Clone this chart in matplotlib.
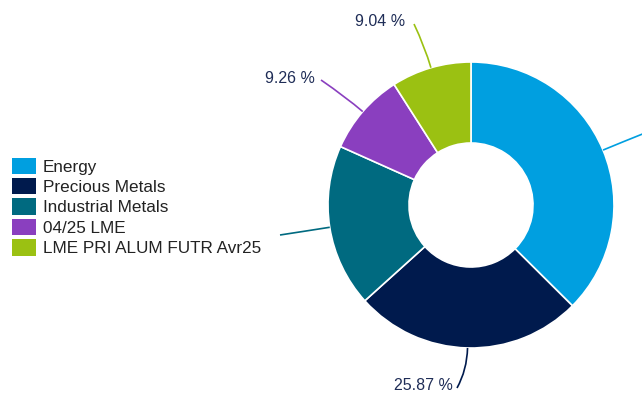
import numpy as np
import matplotlib
matplotlib.use("Agg")
import matplotlib.pyplot as plt
from matplotlib.path import Path
from matplotlib.patches import PathPatch, Patch

categories = ["Energy", "Precious Metals", "Industrial Metals", "04/25 LME", "LME PRI ALUM FUTR Avr25"]
values = [37.45, 25.87, 18.38, 9.26, 9.04]
colors = ["#009fe0", "#001a4d", "#006a80", "#8a3fbf", "#9bc112"]
shown_labels = [None, "25.87 %", None, "9.26 %", "9.04 %"]

W, H = 642, 394
fig = plt.figure(figsize=(W / 100, H / 100), dpi=100)
ax = fig.add_axes([0, 0, 1, 1])

cx, cy = 471, H - 205
R, r_in = 143, 62
wedges, _ = ax.pie(values, colors=colors, startangle=90, counterclock=False,
                   center=(cx, cy), radius=R, frame=True,
                   wedgeprops=dict(width=R - r_in, edgecolor="white", linewidth=1.2))
ax.set_xlim(0, W)
ax.set_ylim(0, H)
ax.set_aspect("equal")
ax.axis("off")

# connector end points / label anchors (pixel layout, y from top)
label_layout = {
    0: dict(end=(645, 133)),
    1: dict(end=(457, 388), text=(453, 385)),
    2: dict(end=(280, 235)),
    3: dict(end=(321, 80), text=(315, 78)),
    4: dict(end=(414, 24), text=(405, 21)),
}
text_color = "#1f2d57"
total = sum(values)
cum = 0.0
for i, v in enumerate(values):
    mid = (cum + v / 2) / total * 360.0
    cum += v
    a = np.deg2rad(mid)
    sx, sy = cx + R * np.sin(a), cy + R * np.cos(a)
    ox, oy = cx + (R + 22) * np.sin(a), cy + (R + 22) * np.cos(a)
    ex, ey = label_layout[i]["end"]
    ey = H - ey
    path = Path([(sx, sy), (ox, oy), (ex, ey)], [Path.MOVETO, Path.CURVE3, Path.CURVE3])
    ax.add_patch(PathPatch(path, facecolor="none", edgecolor=colors[i], lw=1.2))
    if shown_labels[i] and "text" in label_layout[i]:
        tx, ty = label_layout[i]["text"]
        ax.text(tx, H - ty, shown_labels[i], ha="right", va="center",
                fontsize=11.5, color=text_color, family="Liberation Sans")

handles = [Patch(facecolor=c, edgecolor="none") for c in colors]
leg = ax.legend(handles, categories, loc="upper left", bbox_to_anchor=(12 / W, 1 - 157.5 / H),
                frameon=False, handlelength=1.4, handleheight=1.1, handletextpad=0.4,
                labelspacing=0.2, borderaxespad=0, borderpad=0,
                prop=dict(family="Liberation Sans", size=12.3))
for t in leg.get_texts():
    t.set_color("#222222")

fig.savefig("out.png", dpi=100)
